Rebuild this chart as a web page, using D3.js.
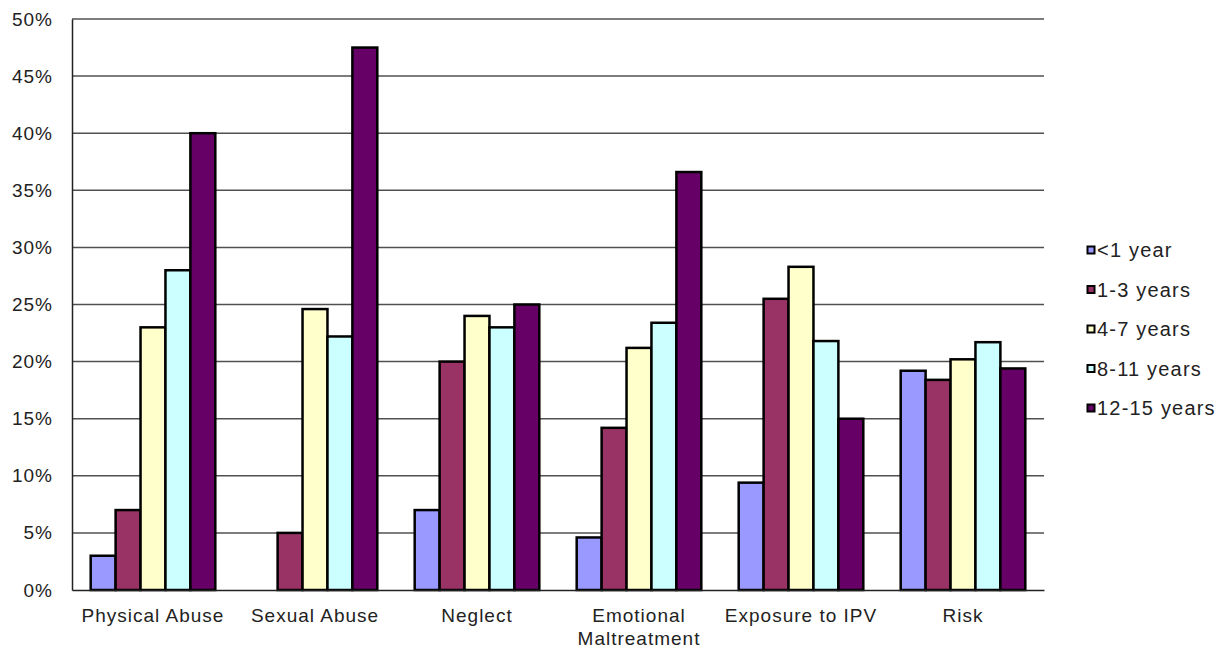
<!DOCTYPE html>
<html>
<head>
<meta charset="utf-8">
<script src="https://cdn.jsdelivr.net/npm/d3@7"></script>
<style>
  body { margin: 0; background: #fff; }
  svg text { font-family: "Liberation Sans", Arial, sans-serif; fill: #222; }
</style>
</head>
<body>
<svg width="1220" height="649"></svg>
<script>
// **** Data ****
var categories = ['Physical Abuse', 'Sexual Abuse', 'Neglect', 'Emotional Maltreatment', 'Exposure to IPV', 'Risk'];
var ageGroups = ['<1 year', '1-3 years', '4-7 years', '8-11 years', '12-15 years'];
var colors = ['#9999FF', '#993366', '#FFFFCC', '#CCFFFF', '#660066'];
var under1 = [3.0, 0, 7.0, 4.6, 9.4, 19.2];
var age1to3 = [7.0, 5.0, 20.0, 14.2, 25.5, 18.4];
var age4to7 = [23.0, 24.6, 24.0, 21.2, 28.3, 20.2];
var age8to11 = [28.0, 22.2, 23.0, 23.4, 21.8, 21.7];
var age12to15 = [40.0, 47.5, 25.0, 36.6, 15.0, 19.4];
var yTicks = [0, 5, 10, 15, 20, 25, 30, 35, 40, 45, 50];

var series = [under1, age1to3, age4to7, age8to11, age12to15];

// **** Scales ****
var plotLeft = 72, plotRight = 1044, plotTop = 19, plotBottom = 590;

var xScale = d3.scaleBand()
    .domain(categories).range([plotLeft, plotRight])
    .paddingInner(1.5 / 6.5).paddingOuter(0.75 / 6.5);

var xInner = d3.scaleBand()
    .domain(ageGroups).range([0, xScale.bandwidth()]);

var yScale = d3.scaleLinear()
    .domain([0, 50]).range([plotBottom, plotTop]);

var svg = d3.select('svg');

// gridlines
svg.append('g').attr('class', 'grid')
    .selectAll('line')
    .data(yTicks.filter(function(d) { return d > 0; }))
    .enter().append('line')
    .attr('x1', plotLeft).attr('x2', plotRight)
    .attr('y1', function(d) { return yScale(d); })
    .attr('y2', function(d) { return yScale(d); })
    .attr('stroke', '#505050')
    .attr('stroke-width', 1.5);

// y axis
var yAxis = svg.append('g').attr('class', 'y axis')
    .attr('transform', 'translate(' + plotLeft + ',0)')
    .call(d3.axisLeft(yScale).tickValues(yTicks).tickSize(0).tickPadding(19)
        .tickFormat(function(d) { return d + '%'; }));
yAxis.select('.domain').attr('stroke', '#222').attr('stroke-width', 1.5);
yAxis.selectAll('text')
    .style('font-size', '19px')
    .style('letter-spacing', '1px')
    .attr('fill', '#222');

// bars
var groups = svg.selectAll('.category')
    .data(categories)
    .enter().append('g')
    .attr('class', 'category')
    .attr('transform', function(c) { return 'translate(' + xScale(c) + ',0)'; });

groups.selectAll('rect')
    .data(function(c, i) {
        return series.map(function(s, j) { return { age: ageGroups[j], value: s[i], color: colors[j] }; })
            .filter(function(d) { return d.value > 0; });
    })
    .enter().append('rect')
    .attr('x', function(d) { return xInner(d.age); })
    .attr('width', xInner.bandwidth())
    .attr('y', function(d) { return yScale(d.value); })
    .attr('height', function(d) { return yScale(0) - yScale(d.value); })
    .attr('fill', function(d) { return d.color; })
    .attr('stroke', '#000')
    .attr('stroke-width', 2.5);

// x axis
var xAxis = svg.append('g').attr('class', 'x axis')
    .attr('transform', 'translate(0,' + plotBottom + ')')
    .call(d3.axisBottom(xScale).tickSize(0).tickSizeOuter(0).tickFormat(''));
xAxis.select('.domain').attr('stroke', '#222').attr('stroke-width', 1.5);

// category labels (wrap Emotional Maltreatment)
var catLabels = {
    'Emotional Maltreatment': ['Emotional', 'Maltreatment']
};
categories.forEach(function(c) {
    var lines = catLabels[c] || [c];
    var t = svg.append('text')
        .attr('text-anchor', 'middle')
        .attr('x', xScale(c) + xScale.bandwidth() / 2)
        .attr('y', 622)
        .style('font-size', '19px')
        .style('letter-spacing', '1px');
    lines.forEach(function(l, k) {
        t.append('tspan')
            .attr('x', xScale(c) + xScale.bandwidth() / 2)
            .attr('dy', k === 0 ? 0 : 23)
            .text(l);
    });
});

// legend
var legend = svg.selectAll('.legend')
    .data(ageGroups)
    .enter().append('g')
    .attr('class', 'legend')
    .attr('transform', function(d, i) { return 'translate(1087,' + (250 + i * 39.5) + ')'; });
legend.append('rect')
    .attr('x', 0.5).attr('y', -3.5)
    .attr('width', 7).attr('height', 7)
    .attr('fill', function(d, i) { return colors[i]; })
    .attr('stroke', '#000').attr('stroke-width', 2);
legend.append('text')
    .attr('x', 10).attr('dy', '0.35em')
    .style('font-size', '20px')
    .style('letter-spacing', '1.2px')
    .text(function(d) { return d; });
</script>
</body>
</html>
